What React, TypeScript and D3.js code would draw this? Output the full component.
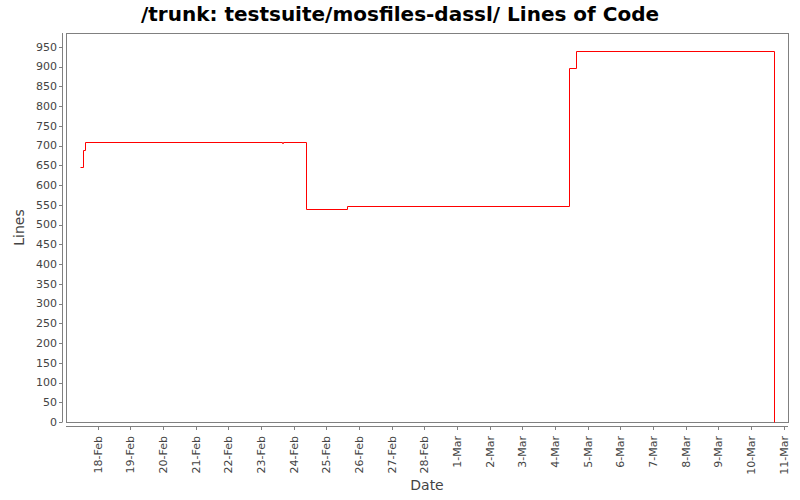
import React from "react";
import * as d3 from "d3";

const TITLE = "/trunk: testsuite/mosfiles-dassl/ Lines of Code";
const X_LABEL = "Date";
const Y_LABEL = "Lines";

// step points (value holds until next point)
const dates = [
  "2009-02-17T11:00:00Z",
  "2009-02-17T13:25:00Z",
  "2009-02-17T14:27:00Z",
  "2009-02-23T15:30:00Z",
  "2009-02-23T16:30:00Z",
  "2009-02-24T08:51:00Z",
  "2009-02-25T15:25:00Z",
  "2009-03-04T10:42:00Z",
  "2009-03-04T15:07:00Z",
  "2009-03-10T17:11:00Z",
];
const lines = [645, 690, 709, 706, 709, 539, 547, 896, 939, 0];

const xDomain = ["2009-02-17T00:42:00Z", "2009-03-11T03:16:00Z"];
const yDomain = [0, 985];
const yTicks = d3.range(0, 951, 50);
const monthNames = ["Jan", "Feb", "Mar", "Apr", "May", "Jun", "Jul", "Aug", "Sep", "Oct", "Nov", "Dec"];

export default function App() {
  const W = 800, H = 500;
  const L = 66, R = 788, T = 33, B = 422;
  const x = d3.scaleUtc().domain(xDomain.map((d) => new Date(d))).range([L, R]);
  const y = d3.scaleLinear().domain(yDomain).range([B, T]);
  const data = dates.map((d, i) => ({ t: new Date(d), v: lines[i] }));
  const line = d3
    .line<{ t: Date; v: number }>()
    .x((d) => Math.round(x(d.t)) + 0.5)
    .y((d) => Math.round(y(d.v)) + 0.5)
    .curve(d3.curveStepAfter);
  const xTicks = d3.utcDay.range(d3.utcDay.ceil(x.domain()[0]), x.domain()[1]);
  const fmt = (d: Date) => `${d.getUTCDate()}-${monthNames[d.getUTCMonth()]}`;
  const font = "'DejaVu Sans', sans-serif";
  const axisColor = "#808080";
  const tickText = "#444444";
  return (
    <svg width={W} height={H} style={{ position: "absolute", left: 0, top: 0 }} fontFamily={font}>
      <rect x={0} y={0} width={W} height={H} fill="#ffffff" />
      <text x={400} y={21} textAnchor="middle" fontSize={20} fontWeight="bold" fill="#000">
        {TITLE}
      </text>
      <rect x={L} y={T} width={R - L} height={B - T} fill="#ffffff" stroke={axisColor} strokeWidth={1} shapeRendering="crispEdges" />
      {/* y axis */}
      <line x1={62.5} x2={62.5} y1={T} y2={B} stroke={axisColor} shapeRendering="crispEdges" />
      {yTicks.map((t) => (
        <g key={t}>
          <line x1={59} x2={62.5} y1={Math.round(y(t)) + 0.5} y2={Math.round(y(t)) + 0.5} stroke={axisColor} />
          <text x={57} y={y(t)} dy="0.35em" textAnchor="end" fontSize={11} fill={tickText}>
            {t}
          </text>
        </g>
      ))}
      {/* x axis */}
      <line x1={L} x2={R} y1={426.5} y2={426.5} stroke={axisColor} shapeRendering="crispEdges" />
      {xTicks.map((t) => {
        const px = Math.round(x(t)) + 0.5;
        return (
          <g key={t.toISOString()}>
            <line x1={px} x2={px} y1={426.5} y2={430} stroke={axisColor} />
            <text
              transform={`translate(${px},${436}) rotate(-90)`}
              dy="0.35em"
              textAnchor="end"
              fontSize={11}
              fill={tickText}
            >
              {fmt(t)}
            </text>
          </g>
        );
      })}
      <path d={line(data) || ""} fill="none" stroke="#ff0000" strokeWidth={1} />
      <text x={(L + R) / 2} y={490} textAnchor="middle" fontSize={14} fill={tickText}>
        {X_LABEL}
      </text>
      <text transform={`translate(24,${(T + B) / 2}) rotate(-90)`} textAnchor="middle" fontSize={14} fill={tickText}>
        {Y_LABEL}
      </text>
    </svg>
  );
}
